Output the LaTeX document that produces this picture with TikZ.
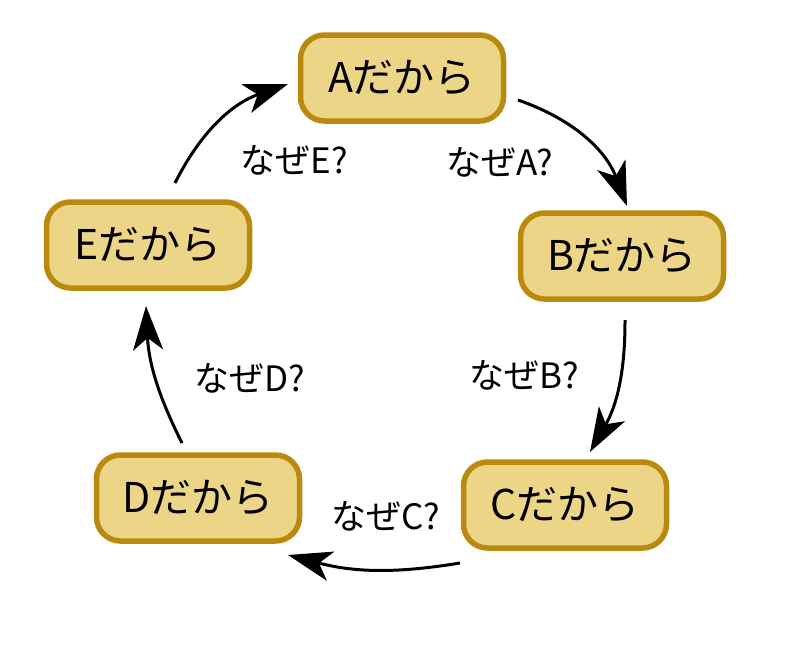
\documentclass[tikz,border=0pt]{standalone}
\usepackage{fontspec}
\newfontfamily\jp{Noto Sans CJK JP}
\usetikzlibrary{arrows.meta}
\begin{document}
\begin{tikzpicture}[x=1pt,y=-1pt,
  box/.style={draw=boxedge,fill=boxfill,line width=5.5pt,rounded corners=24pt,minimum width=203pt,minimum height=86pt,font=\jp\fontsize{41}{48}\selectfont},
  lbl/.style={font=\jp\fontsize{35}{42}\selectfont},
  arr/.style={line width=3pt,-{Stealth[length=44pt,width=30pt,inset=12pt]}}]
\definecolor{boxfill}{HTML}{EDD588}
\definecolor{boxedge}{HTML}{BA8A0E}
\useasboundingbox (0,0) rectangle (800,664);
\node[box] (A) at (402,78) {Aだから};
\node[box] (B) at (622,256) {Bだから};
\node[box] (C) at (565,505) {Cだから};
\node[box] (D) at (198,498) {Dだから};
\node[box] (E) at (148,245) {Eだから};
\coordinate (a1) at (518,100); \coordinate (b0) at (627,206);
\coordinate (b1) at (625,320); \coordinate (c0) at (590,452);
\coordinate (c1) at (460,563); \coordinate (d0) at (288,555);
\coordinate (d1) at (182,443); \coordinate (e0) at (146,306);
\coordinate (e1) at (175,183); \coordinate (a0) at (288,84);
\draw[arr] (a1) to[bend left=25] (b0);
\draw[arr] (b1) to[bend left=15] (c0);
\draw[arr] (c1) to[bend left=12] (d0);
\draw[arr] (d1) to[bend left=12] (e0);
\draw[arr] (e1) to[bend left=22] (a0);
\node[lbl] (la) at (500,162) {なぜA?};
\node[lbl] (lb) at (524,375) {なぜB?};
\node[lbl] (lc) at (386,516) {なぜC?};
\node[lbl] (ld) at (250,378) {なぜD?};
\node[lbl] (le) at (294,160) {なぜE?};
\end{tikzpicture}
\end{document}
